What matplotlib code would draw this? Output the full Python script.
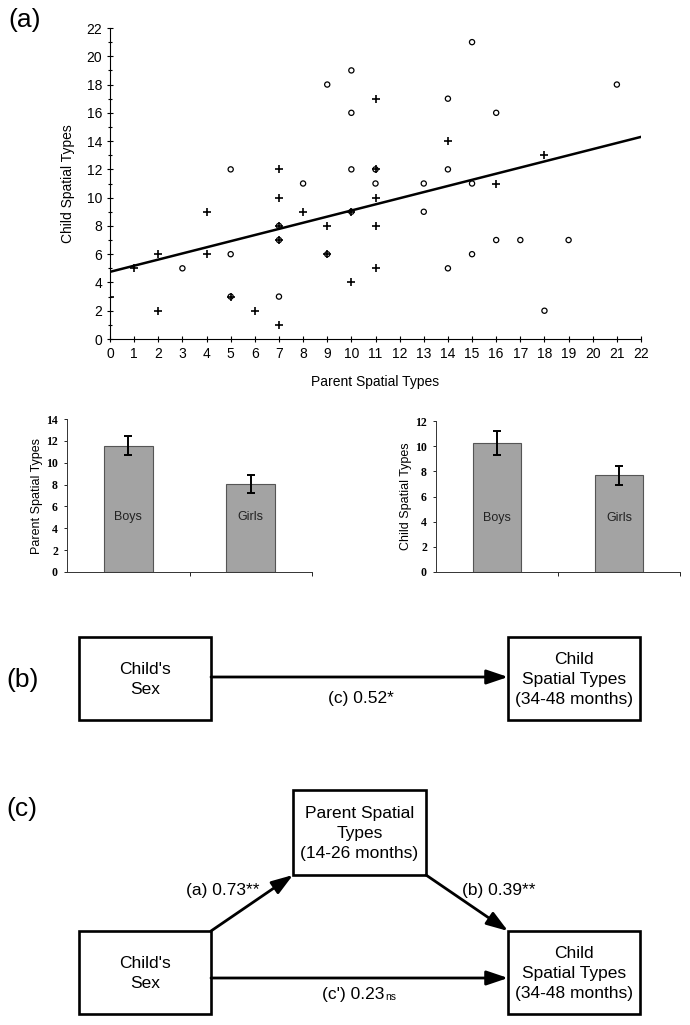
import matplotlib
matplotlib.use("Agg")
import matplotlib.pyplot as plt
from matplotlib.patches import Rectangle, FancyArrowPatch, ArrowStyle
import numpy as np

# ---------------- data ----------------
# scatter: parent (x) vs child (y) spatial types
boys_parent = [0, 1, 2, 2, 4, 4, 5, 6, 7, 7, 7, 7, 7, 8, 9, 9, 10, 10, 11, 11, 11, 11, 11, 14, 16, 18]
boys_child  = [3, 5, 6, 2, 9, 6, 3, 2, 12, 10, 8, 7, 1, 9, 8, 6, 4, 9, 17, 12, 10, 8, 5, 14, 11, 13]
girls_parent = [3, 5, 5, 5, 7, 7, 7, 8, 9, 9, 10, 10, 10, 10, 11, 11, 13, 13, 14, 14, 14, 15, 15, 15, 16, 16, 17, 18, 19, 21]
girls_child  = [5, 12, 6, 3, 8, 7, 3, 11, 18, 6, 19, 16, 12, 9, 12, 11, 11, 9, 17, 12, 5, 21, 11, 6, 16, 7, 7, 2, 7, 18]
fit_intercept = 4.75
fit_slope = 0.434
x_ticks = list(range(0, 23))
y_ticks = list(range(0, 23, 2))

# bar charts
bar_groups = ["Boys", "Girls"]
parent_means = [11.55, 8.05]
parent_err = [0.85, 0.85]
child_means = [10.25, 7.7]
child_err = [0.95, 0.75]

# mediation path coefficients
path_c = "(c) 0.52*"
path_a = "(a) 0.73**"
path_b = "(b) 0.39**"
path_cp = "(c') 0.23"
path_cp_sig = "ns"

W, H = 690, 1025
fig = plt.figure(figsize=(W / 100, H / 100), dpi=100)

sans = ["Liberation Sans", "DejaVu Sans"]
serif = ["Liberation Serif", "DejaVu Serif"]

def fbox(x0, y0, x1, y1):
    """pixel box (top-left origin) -> figure fraction rect"""
    return [x0 / W, 1 - y1 / H, (x1 - x0) / W, (y1 - y0) / H]

# ---------------- (a) scatter ----------------
ax = fig.add_axes(fbox(110, 28, 641, 339))
ax.scatter(girls_parent, girls_child, marker="o", s=14, facecolors="none",
           edgecolors="black", linewidths=0.9, zorder=3)
ax.scatter(boys_parent, boys_child, marker="+", s=30, c="black",
           linewidths=1.2, zorder=3)
xs = np.array([0, 22])
ax.plot(xs, fit_intercept + fit_slope * xs, color="black", lw=1.8, zorder=2)
ax.set_xlim(0, 22)
ax.set_ylim(0, 22)
ax.set_xticks(x_ticks)
ax.set_yticks(y_ticks)
ax.set_yticks(range(0, 23), minor=True)
ax.tick_params(axis="both", which="both", direction="inout", length=4, width=0.8, labelsize=10)
ax.tick_params(axis="y", which="minor", length=3)
for lab in ax.get_xticklabels() + ax.get_yticklabels():
    lab.set_fontfamily(sans)
for s in ["top", "right"]:
    ax.spines[s].set_visible(False)
for s in ["left", "bottom"]:
    ax.spines[s].set_linewidth(0.8)
ax.set_xlabel("Parent Spatial Types", fontsize=10, family=sans, labelpad=10)
ax.set_ylabel("Child Spatial Types", fontsize=10, family=sans, labelpad=8)

fig.text(8 / W, 1 - 20 / H, "(a)", fontsize=19, family=sans, va="center", ha="left")

# ---------------- bar charts ----------------
def bar_panel(rect, means, errs, ymax, ylabel):
    b = fig.add_axes(rect)
    xpos = np.arange(len(bar_groups))
    b.bar(xpos, means, width=0.4, color="#a3a3a3", edgecolor="#555555", linewidth=0.8, zorder=2)
    b.errorbar(xpos, means, yerr=errs, fmt="none", ecolor="black", elinewidth=1.4,
               capsize=3, capthick=1.4, zorder=3)
    for xi, g in zip(xpos, bar_groups):
        b.text(xi, ymax * 0.36, g, ha="center", va="center", fontsize=9, family=sans, color="#222222")
    b.set_xlim(-0.5, 1.5)
    b.set_ylim(0, ymax)
    b.set_yticks(range(0, ymax + 1, 2))
    b.set_xticks([0.5, 1.5])
    b.set_xticklabels([])
    b.tick_params(axis="x", direction="out", length=3, width=0.6)
    b.tick_params(axis="y", direction="out", length=2.5, width=0.6, labelsize=8.5, pad=4)
    for lab in b.get_yticklabels():
        lab.set_fontfamily(serif)
        lab.set_fontweight("bold")
    for s in ["top", "right"]:
        b.spines[s].set_visible(False)
    for s in ["left", "bottom"]:
        b.spines[s].set_linewidth(0.7)
        b.spines[s].set_color("#333333")
    b.set_ylabel(ylabel, fontsize=9, family=sans, labelpad=2)
    return b

bar_panel(fbox(67, 419, 312, 572), parent_means, parent_err, 14, "Parent Spatial Types")
bar_panel(fbox(436, 421, 680, 572), child_means, child_err, 12, "Child Spatial Types")

# ---------------- (b), (c) path diagrams ----------------
d = fig.add_axes([0, 0, 1, 1], zorder=-1)
d.set_xlim(0, W)
d.set_ylim(H, 0)
d.axis("off")

BOXFS = 12.5
astyle = ArrowStyle("-|>", head_length=0.65, head_width=0.22)

def box(x0, y0, x1, y1, lines):
    d.add_patch(Rectangle((x0, y0), x1 - x0, y1 - y0, fill=False, lw=1.9, ec="black"))
    d.text((x0 + x1) / 2, (y0 + y1) / 2 + 1, "\n".join(lines), ha="center", va="center",
           fontsize=BOXFS, family=sans, linespacing=1.45)

def arrow(p0, p1):
    d.add_patch(FancyArrowPatch(p0, p1, arrowstyle=astyle, mutation_scale=20,
                                lw=2, color="black", shrinkA=0, shrinkB=0))

# (b)
d.text(6, 680, "(b)", fontsize=19, family=sans, va="center", ha="left")
box(79, 637, 211, 720, ["Child's", "Sex"])
box(508, 637, 640, 720, ["Child", "Spatial Types", "(34-48 months)"])
arrow((211, 677), (508, 677))
d.text(361, 699, path_c, ha="center", va="center", fontsize=BOXFS, family=sans)

# (c)
d.text(6, 809, "(c)", fontsize=19, family=sans, va="center", ha="left")
box(293, 790, 426, 875, ["Parent Spatial", "Types", "(14-26 months)"])
box(79, 931, 211, 1014, ["Child's", "Sex"])
box(508, 931, 640, 1014, ["Child", "Spatial Types", "(34-48 months)"])
arrow((211, 931), (293, 875))
arrow((426, 875), (508, 931))
arrow((211, 978), (508, 978))
d.text(260, 890, path_a, ha="right", va="center", fontsize=BOXFS, family=sans)
d.text(462, 890, path_b, ha="left", va="center", fontsize=BOXFS, family=sans)
d.text(384, 994, path_cp, ha="right", va="center", fontsize=BOXFS, family=sans)
d.text(385, 997, path_cp_sig, ha="left", va="center", fontsize=7.5, family=sans)

fig.savefig("out.png", dpi=100)
